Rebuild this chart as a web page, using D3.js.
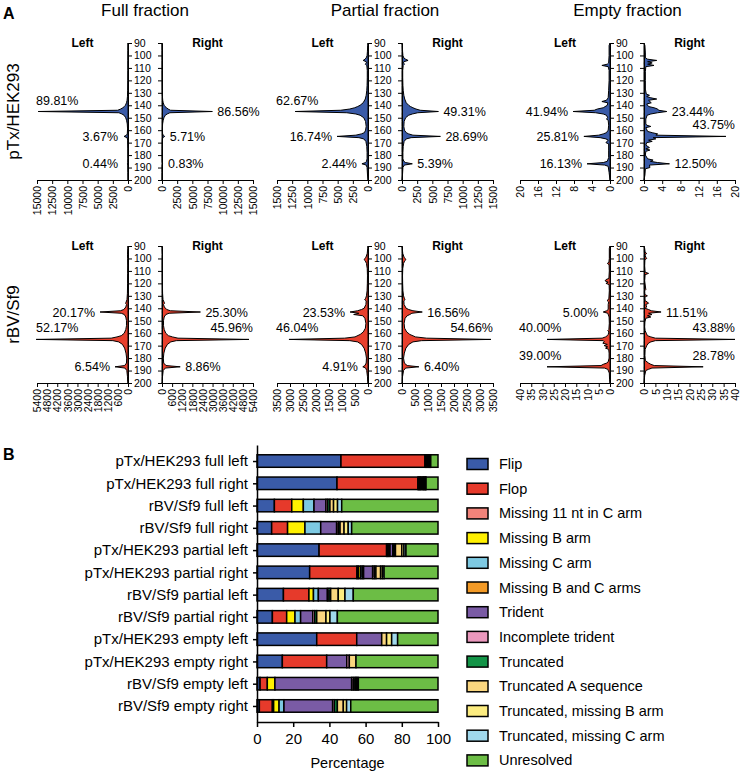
<!DOCTYPE html>
<html><head><meta charset="utf-8">
<script src="https://cdn.jsdelivr.net/npm/d3@7"></script>
<style>
body{margin:0;background:#fff}
svg{display:block}
text{font-family:"Liberation Sans",Arial,Helvetica,sans-serif;fill:#000}
</style>
</head><body>
<svg id="c" width="740" height="774"></svg>
<script>
// ---------------- DATA: panel A (read length vs. read count) ----------------
const colTitles = ["Full fraction", "Partial fraction", "Empty fraction"];
const rowTitles = ["pTx/HEK293", "rBV/Sf9"];
const lengthTicks = [90,100,110,120,130,140,150,160,170,180,190,200];
const countMaxTop = [15000, 1500, 20];
const countStepTop = [2500, 250, 4];
const countMaxBottom = [5400, 3500, 40];
const countStepBottom = [600, 500, 5];

const fullHekLeft = [[96,15],[104,20],[112,20],[120,30],[128,50],[133,90],[136,150],[138,250],[140,420],[141,600],[142,850],[143,1200],[144,1700],[145,14800],[146,1500],[147,1000],[148,650],[150,380],[152,240],[155,120],[159,70],[163,120],[164,250],[165,650],[166,150],[168,60],[175,30],[183,25],[186,40],[187,90],[188,30],[194,15]];
const fullHekRight = [[96,15],[104,20],[112,20],[120,30],[128,40],[133,70],[136,120],[138,200],[140,350],[141,500],[142,750],[143,1000],[144,1400],[145,8300],[146,1300],[147,850],[148,550],[150,320],[152,200],[155,100],[159,60],[163,100],[164,200],[165,450],[166,120],[168,50],[175,25],[183,20],[186,40],[187,100],[188,30],[194,15]];
const fullSf9Left = [[92,10],[97,30],[100,20],[106,15],[112,20],[120,25],[128,35],[133,60],[135,110],[136,140],[137,90],[139,130],[141,250],[142,450],[143,1660],[144,400],[145,220],[147,130],[150,90],[154,90],[157,130],[160,220],[162,400],[163,650],[164,1000],[165,5450],[166,900],[167,550],[169,330],[172,200],[176,120],[180,80],[184,90],[186,200],[187,770],[188,180],[190,70],[195,30],[199,15]];
const fullSf9Right = [[92,10],[97,30],[100,20],[106,15],[112,20],[120,25],[128,35],[133,60],[135,120],[136,150],[137,90],[139,140],[141,280],[142,500],[143,2280],[144,420],[145,230],[147,130],[150,90],[154,90],[157,130],[160,220],[162,380],[163,620],[164,950],[165,5160],[166,850],[167,520],[169,320],[172,190],[176,110],[180,80],[184,100],[186,240],[187,1080],[188,200],[190,70],[195,30],[199,15]];

const partialHekLeft = [[92,5],[97,10],[100,15],[102,30],[103,50],[104,80],[105,30],[106,25],[107,45],[108,20],[112,12],[118,12],[124,15],[128,20],[132,30],[135,45],[138,80],[140,130],[141,170],[142,220],[143,300],[144,450],[145,1200],[146,350],[147,200],[148,130],[150,70],[153,40],[157,30],[160,40],[162,60],[163,110],[164,200],[165,510],[166,150],[167,70],[169,35],[173,20],[178,15],[183,15],[185,25],[186,40],[187,100],[188,30],[190,15],[196,8]];
const partialHekRight = [[92,5],[97,10],[100,15],[102,30],[103,60],[104,100],[105,30],[106,25],[107,40],[108,20],[112,12],[118,12],[124,15],[128,20],[132,30],[135,45],[138,70],[140,110],[141,140],[142,180],[143,230],[144,300],[145,600],[146,260],[147,170],[148,110],[150,60],[153,35],[157,30],[160,40],[162,70],[163,110],[164,180],[165,633],[166,150],[167,70],[169,35],[173,20],[178,15],[183,15],[185,30],[186,60],[187,170],[188,40],[190,15],[196,8]];
const partialSf9Left = [[92,10],[96,30],[99,80],[100,120],[101,150],[102,100],[104,60],[108,30],[114,20],[120,25],[126,35],[130,60],[132,90],[133,130],[134,70],[137,80],[140,150],[141,250],[142,400],[143,690],[144,350],[145,550],[146,200],[148,120],[152,80],[156,100],[159,180],[161,300],[163,500],[164,900],[165,3040],[166,700],[167,400],[169,250],[172,150],[176,90],[180,60],[184,70],[186,120],[187,200],[188,90],[190,50],[195,20],[199,10]];
const partialSf9Right = [[92,10],[96,30],[99,80],[100,120],[101,150],[102,100],[104,60],[108,30],[114,20],[120,25],[126,35],[130,60],[132,90],[133,120],[134,70],[137,80],[140,160],[141,260],[142,420],[143,780],[144,380],[145,300],[146,200],[148,120],[152,80],[156,100],[159,180],[161,300],[163,520],[164,950],[165,3420],[166,750],[167,420],[169,260],[172,150],[176,90],[180,60],[184,90],[186,200],[187,650],[188,140],[190,60],[195,20],[199,10]];

const emptyHekLeft = [[92,0.2],[100,0.2],[106,0.3],[107,0.6],[108,1.8],[109,0.4],[112,0.2],[120,0.2],[128,0.3],[134,0.4],[136,0.8],[137,1.8],[138,0.5],[140,0.6],[142,1.5],[143,2.8],[144,3.5],[145,8.2],[146,3.2],[147,1.5],[148,0.8],[150,0.5],[151,0.8],[152,0.4],[156,0.3],[160,0.4],[162,0.8],[163,1.5],[164,2.5],[165,5.8],[166,2.2],[167,0.9],[168,0.4],[170,0.9],[171,0.3],[176,0.3],[182,0.3],[185,0.6],[186,1.5],[187,5.1],[188,1.2],[189,0.4],[194,0.2]];
const emptyHekRight = [[92,0.2],[98,0.3],[102,0.3],[103,0.8],[104,2.8],[105,0.8],[106,1.8],[107,0.8],[108,2.2],[109,0.4],[113,0.3],[120,0.3],[127,0.3],[131,0.5],[132,1.2],[133,0.6],[134,1.5],[135,2.8],[136,1.0],[138,1.6],[139,0.6],[141,1.0],[142,2.2],[143,3.0],[144,3.2],[145,5.0],[146,3.0],[147,1.5],[148,0.7],[151,0.4],[155,0.4],[156,0.6],[157,1.5],[158,0.4],[161,0.8],[162,1.8],[163,3.0],[164,2.6],[165,18.0],[166,2.0],[167,2.6],[168,1.0],[169,1.8],[170,0.6],[172,0.4],[174,1.2],[175,0.4],[176,1.3],[177,0.4],[180,0.3],[183,0.8],[184,2.0],[185,1.4],[186,3.0],[187,5.6],[188,1.2],[190,1.3],[191,0.3],[196,0.2]];
const emptySf9Left = [[92,0.3],[100,0.3],[103,0.5],[104,1.2],[105,0.4],[110,0.3],[116,0.5],[117,1.8],[118,2.2],[119,0.8],[120,1.8],[121,0.4],[126,0.3],[132,0.5],[134,1.2],[135,0.6],[137,0.8],[141,0.8],[142,1.5],[143,3.0],[144,1.0],[147,0.4],[152,0.3],[157,0.5],[158,1.0],[159,0.5],[161,0.8],[162,1.2],[163,2.0],[164,3.5],[165,28],[166,3.0],[167,2.5],[168,3.2],[169,1.2],[170,2.6],[171,1.0],[172,2.0],[173,0.6],[176,0.4],[180,0.4],[183,0.8],[184,1.5],[185,3.0],[186,4.0],[187,28],[188,2.5],[189,1.0],[192,0.3],[197,0.2]];
const emptySf9Right = [[92,0.3],[95,0.5],[96,1.2],[97,0.4],[99,0.8],[100,1.2],[101,0.4],[106,0.3],[111,0.5],[112,2.0],[113,0.5],[118,0.3],[125,0.8],[126,0.3],[129,0.4],[130,1.5],[131,0.4],[134,0.5],[135,1.5],[136,2.0],[137,0.8],[139,1.2],[140,0.5],[141,2.0],[142,3.2],[143,7.5],[144,2.0],[145,3.5],[146,1.5],[147,3.0],[148,0.8],[151,0.4],[155,0.3],[158,0.5],[160,1.0],[162,1.5],[163,3.0],[164,5.0],[165,40],[166,5.0],[167,3.0],[168,2.0],[170,1.2],[173,0.5],[178,0.4],[182,0.6],[184,2.0],[185,3.0],[186,4.5],[187,26],[188,3.5],[189,2.0],[190,0.8],[194,0.3]];

// percentage annotations: [read length, text]
const fullHekLeftLabels = [[145,"89.81%"],[165,"3.67%"],[187,"0.44%"]];
const fullHekRightLabels = [[145,"86.56%"],[165,"5.71%"],[187,"0.83%"]];
const partialHekLeftLabels = [[145,"62.67%"],[165,"16.74%"],[187,"2.44%"]];
const partialHekRightLabels = [[145,"49.31%"],[165,"28.69%"],[187,"5.39%"]];
const emptyHekLeftLabels = [[145,"41.94%"],[165,"25.81%"],[187,"16.13%"]];
const emptyHekRightLabels = [[145,"23.44%"],[165,"43.75%"],[187,"12.50%"]];
const fullSf9LeftLabels = [[143,"20.17%"],[165,"52.17%"],[187,"6.54%"]];
const fullSf9RightLabels = [[143,"25.30%"],[165,"45.96%"],[187,"8.86%"]];
const partialSf9LeftLabels = [[143,"23.53%"],[165,"46.04%"],[187,"4.91%"]];
const partialSf9RightLabels = [[143,"16.56%"],[165,"54.66%"],[187,"6.40%"]];
const emptySf9LeftLabels = [[143,"5.00%"],[165,"40.00%"],[187,"39.00%"]];
const emptySf9RightLabels = [[143,"11.51%"],[165,"43.88%"],[187,"28.78%"]];

// ---------------- DATA: panel B (percentage of reads per structure) ----------------
const barCategories = ["pTx/HEK293 full left","pTx/HEK293 full right","rBV/Sf9 full left","rBV/Sf9 full right","pTx/HEK293 partial left","pTx/HEK293 partial right","rBV/Sf9 partial left","rBV/Sf9 partial right","pTx/HEK293 empty left","pTx/HEK293 empty right","rBV/Sf9 empty left","rBV/Sf9 empty right"];
const seriesNames = ["Flip","Flop","Missing 11 nt in C arm","Missing B arm","Missing C arm","Missing B and C arms","Trident","Incomplete trident","Truncated","Truncated A sequence","Truncated, missing B arm","Truncated, missing C arm","Unresolved"];
const seriesColors = ["#3A5BA8","#E63A2B","#F1837A","#FFF000","#7DC9E2","#F39A26","#7A5BA5","#EA98BD","#139447","#FAD67F","#FCEC80","#A0D8EC","#6CBD45"];
const flip       = [46.4,44.2, 9.6, 8.1,34.3,29.1,14.6, 8.5,33.0,14.0, 1.7, 1.3];
const flop       = [46.4,44.7, 9.6, 8.8,37.3,26.1,14.1, 7.9,22.1,24.5, 4.0, 7.2];
const missing11  = [ 0.4, 0.5, 0,   0,   0.3, 0.8, 0,   0,   0,   0,   0,   0.7];
const missingB   = [ 0.3, 0.4, 6.4, 9.6, 0.5, 1.2, 2.5, 4.6, 0,   0,   4.2, 3.0];
const missingC   = [ 0.4, 0.5, 5.9, 8.7, 0.5, 0.9, 2.7, 3.1, 0,   0,   0,   2.7];
const missingBC  = [ 0.3, 0.4, 0,   0,   0.6, 0.8, 0,   0,   0,   0,   0,   0];
const trident    = [ 0.5, 0.8, 6.6, 8.8, 1.5, 5.0, 5.0, 6.7,13.8,11.1,42.4,26.9];
const incTrident = [ 0.3, 0.4, 1.0, 0.9, 0.7, 0.9, 0.9, 1.1, 0,   1.4, 0.9, 1.0];
const truncated  = [ 0.3, 0.4, 1.2, 1.0, 0.8, 0.9, 0.9, 1.1, 0,   0,   0.9, 1.6];
const truncA     = [ 0.3, 0.5, 2.0, 2.2, 3.5, 2.6, 4.2, 5.1, 2.7, 3.7, 0.6, 3.3];
const truncMissB = [ 0.2, 0.3, 2.2, 2.3, 1.2, 1.0, 3.7, 2.2, 2.8, 0,   0.6, 1.8];
const truncMissC = [ 0.2, 0.3, 2.3, 1.9, 1.1, 0.9, 4.6, 4.1, 3.3, 0,   0.7, 2.3];
const unresolved = [ 4.0, 6.6,53.2,47.7,17.7,29.8,46.8,55.6,22.3,45.3,44.0,48.2];
const percentTicks = [0,20,40,60,80,100];

// ---------------- DRAWING ----------------
const svg = d3.select("#c");
const FF = '"Liberation Sans",Arial,Helvetica,sans-serif';
const BLUE = "#3A5BA8", RED = "#E8402D";

const colBox = [
  {lx0:37, lx1:128, rx0:162, rx1:253},
  {lx0:277,lx1:368, rx0:402, rx1:493},
  {lx0:520,lx1:610, rx0:644, rx1:735}
];
const rowBox = [{y0:43, y1:180}, {y0:246, y1:383}];

const panelsA = [
  {r:0,c:0,L:fullHekLeft,R:fullHekRight,LL:fullHekLeftLabels,RL:fullHekRightLabels},
  {r:0,c:1,L:partialHekLeft,R:partialHekRight,LL:partialHekLeftLabels,RL:partialHekRightLabels},
  {r:0,c:2,L:emptyHekLeft,R:emptyHekRight,LL:emptyHekLeftLabels,RL:emptyHekRightLabels},
  {r:1,c:0,L:fullSf9Left,R:fullSf9Right,LL:fullSf9LeftLabels,RL:fullSf9RightLabels},
  {r:1,c:1,L:partialSf9Left,R:partialSf9Right,LL:partialSf9LeftLabels,RL:partialSf9RightLabels},
  {r:1,c:2,L:emptySf9Left,R:emptySf9Right,LL:emptySf9LeftLabels,RL:emptySf9RightLabels}
];

// panel letters / titles
svg.append("text").attr("x",3).attr("y",19).attr("font-size",16).attr("font-weight","bold").text("A");
svg.append("text").attr("x",3).attr("y",460).attr("font-size",16).attr("font-weight","bold").text("B");
colTitles.forEach((t,i)=>{
  const b = colBox[i];
  svg.append("text").attr("x",(b.lx0+b.rx1)/2).attr("y",16).attr("text-anchor","middle").attr("font-size",17).text(t);
});
rowTitles.forEach((t,i)=>{
  const b = rowBox[i];
  svg.append("text").attr("transform",`translate(19,${(b.y0+b.y1)/2}) rotate(-90)`).attr("text-anchor","middle").attr("font-size",17).text(t);
});

function styleAxis(g, fs){
  g.attr("font-family", FF).attr("font-size", fs);
  g.selectAll("path,line").attr("stroke","#000").attr("stroke-width",1);
  g.selectAll("text").attr("fill","#000");
}

panelsA.forEach(p=>{
  const b = colBox[p.c], rb = rowBox[p.r];
  const max = p.r===0 ? countMaxTop[p.c] : countMaxBottom[p.c];
  const step = p.r===0 ? countStepTop[p.c] : countStepBottom[p.c];
  const color = p.r===0 ? BLUE : RED;
  const y = d3.scaleLinear().domain([90,200]).range([rb.y0, rb.y1]);
  const xL = d3.scaleLinear().domain([0,max]).range([b.lx1, b.lx0]);
  const xR = d3.scaleLinear().domain([0,max]).range([b.rx0, b.rx1]);
  const g = svg.append("g");

  const sides = [
    {data:p.L, x:xL, base:b.lx1, labels:p.LL, left:true},
    {data:p.R, x:xR, base:b.rx0, labels:p.RL, left:false}
  ];
  sides.forEach(s=>{
    const pts = [[90,0], ...s.data, [200,0]];
    const area = d3.area().y(d=>y(d[0])).x0(s.base).x1(d=>s.x(d[1])).curve(d3.curveLinear);
    g.append("path").datum(pts).attr("d",area).attr("fill",color)
      .attr("stroke","#000").attr("stroke-width",1).attr("stroke-linejoin","round");
    s.labels.forEach(([len,txt])=>{
      const near = s.data.filter(d=>Math.abs(d[0]-len)<=2);
      const tipV = d3.max(near, d=>d[1]) || 0;
      const tx = s.x(tipV), ty = y(len);
      const t = g.append("text").attr("font-size",12.5).text(txt);
      if (tipV/max > 0.6){
        if (s.left) t.attr("x", s.x(max)-1).attr("text-anchor","start");
        else t.attr("x", s.x(max)).attr("text-anchor","end");
        t.attr("y", ty-7);
      } else {
        if (s.left) t.attr("x", Math.min(tx-5, s.base-10)).attr("text-anchor","end");
        else t.attr("x", Math.max(tx+5, s.base+6)).attr("text-anchor","start");
        t.attr("y", ty+4.5);
      }
    });
    const ax = d3.axisBottom(s.x).tickValues(d3.range(0,max+step/2,step)).tickSize(4).tickSizeOuter(0).tickFormat(d3.format("d"));
    const ag = g.append("g").attr("transform",`translate(0,${rb.y1})`).call(ax);
    styleAxis(ag, 10.5);
    ag.selectAll(".tick text").attr("transform","rotate(-90)").attr("text-anchor","end")
      .attr("x",-6).attr("y",0).attr("dy","0.35em");
  });

  g.append("text").attr("x",(b.lx0+b.lx1)/2).attr("y",rb.y0+4).attr("text-anchor","middle").attr("font-size",12).attr("font-weight","bold").text("Left");
  g.append("text").attr("x",(b.rx0+b.rx1)/2).attr("y",rb.y0+4).attr("text-anchor","middle").attr("font-size",12).attr("font-weight","bold").text("Right");

  const ya = g.append("g").attr("transform",`translate(${b.lx1},0)`)
    .call(d3.axisRight(y).tickValues(lengthTicks).tickSize(4).tickSizeOuter(0).tickPadding(2));
  styleAxis(ya, 10.5);
  const yb = g.append("g").attr("transform",`translate(${b.rx0},0)`)
    .call(d3.axisLeft(y).tickValues(lengthTicks).tickSize(4).tickSizeOuter(0).tickFormat(""));
  styleAxis(yb, 10.5);
});

// ---------------- Panel B: stacked bars ----------------
const seriesValues = [flip,flop,missing11,missingB,missingC,missingBC,trident,incTrident,truncated,truncA,truncMissB,truncMissC,unresolved];
const xB = d3.scaleLinear().domain([0,100]).range([257,438]);
const yB = d3.scalePoint().domain(barCategories).range([445,722]).padding(0.72);
const barH = 12.5;
const gb = svg.append("g");
barCategories.forEach((cat,i)=>{
  let acc = 0;
  seriesValues.forEach((vals,k)=>{
    const v = vals[i];
    if (v > 0){
      gb.append("rect").attr("x",xB(acc)).attr("width",xB(acc+v)-xB(acc))
        .attr("y",yB(cat)-barH/2).attr("height",barH)
        .attr("fill",seriesColors[k]).attr("stroke","#000").attr("stroke-width",1.5);
    }
    acc += v;
  });
});
const yAx = gb.append("g").attr("transform",`translate(${xB(0)},0)`)
  .call(d3.axisLeft(yB).tickSize(4).tickSizeOuter(0).tickPadding(5));
styleAxis(yAx, 15);
yAx.selectAll("path,line").attr("stroke-width",1.5);
const xAx = gb.append("g").attr("transform",`translate(0,722)`)
  .call(d3.axisBottom(xB).tickValues(percentTicks).tickSize(5).tickSizeOuter(0).tickPadding(6));
styleAxis(xAx, 15);
xAx.selectAll("path,line").attr("stroke-width",1.5);
gb.append("text").attr("x",(xB(0)+xB(100))/2).attr("y",768).attr("text-anchor","middle").attr("font-size",14.5).text("Percentage");

// legend
const lg = svg.append("g");
seriesNames.forEach((n,k)=>{
  const cy = 464 + k*24.7;
  lg.append("rect").attr("x",467).attr("y",cy-5.5).attr("width",21).attr("height",11)
    .attr("fill",seriesColors[k]).attr("stroke","#000").attr("stroke-width",1.5);
  lg.append("text").attr("x",499).attr("y",cy).attr("dy","0.35em").attr("font-size",14.5).text(n);
});
</script>
</body></html>
